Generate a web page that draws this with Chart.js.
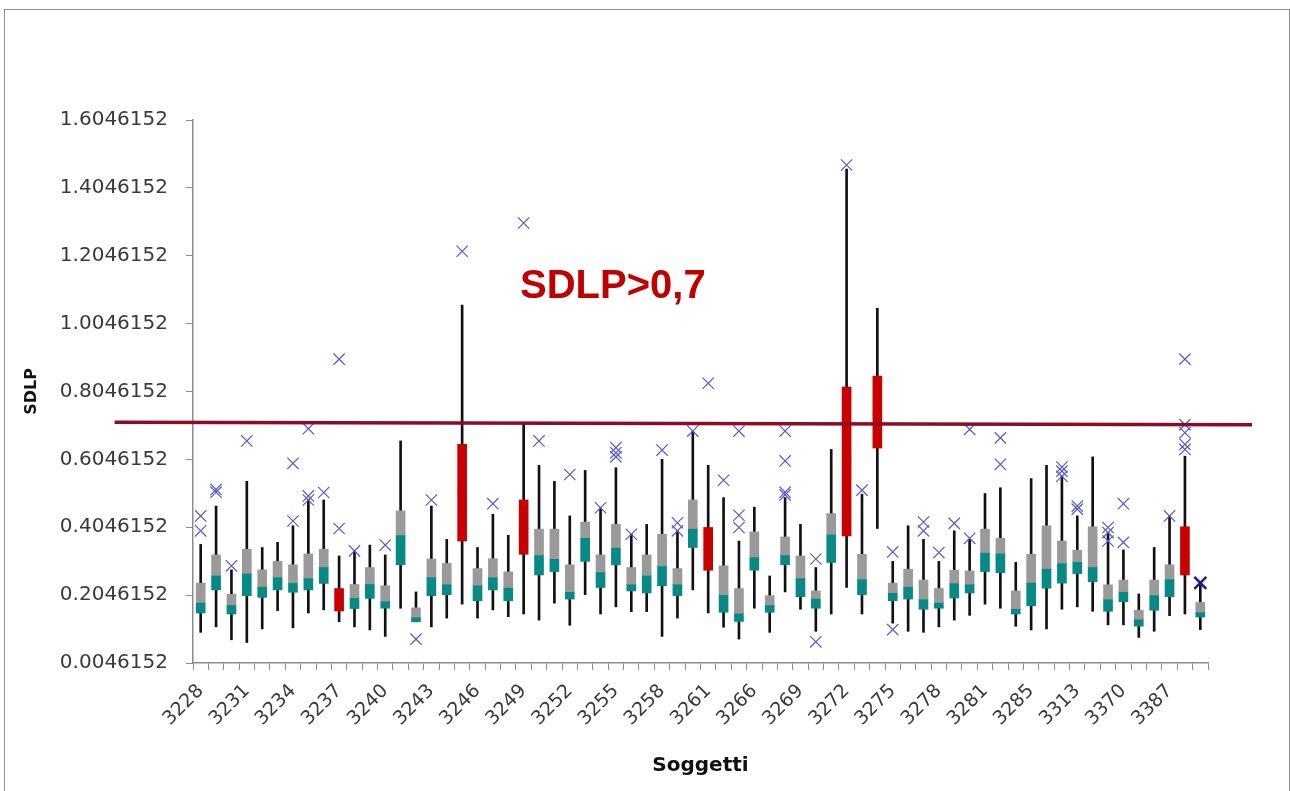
<!DOCTYPE html>
<html lang="it">
<head>
  <meta charset="UTF-8" />
  <title>SDLP per soggetto</title>
  <script src="https://cdn.jsdelivr.net/npm/chart.js"></script>
  <style>
    body {
      margin: 0;
      background: #ffffff;
      width: 1290px;
      height: 791px;
      overflow: hidden;
      position: relative;
    }
    #frame {
      position: absolute;
      left: 4px;
      top: 9px;
      width: 1286px;
      height: 800px;
      border: 1px solid #8f8f8f;
      box-sizing: border-box;
      pointer-events: none;
    }
    canvas {
      position: absolute;
      left: 0;
      top: 0;
    }
  </style>
</head>
<body>
  <canvas id="boxChart" width="1290" height="791"></canvas>
  <div id="frame"></div>

  <script>
  // subjects (x categories)
  const subjects = [
    '3228','3229','3230','3231','3232','3233','3234','3235','3236','3237','3238',
    '3239','3240','3241','3242','3243','3244','3245','3246','3247','3248','3249',
    '3250','3251','3252','3253','3254','3255','3256','3257','3258','3259','3260',
    '3261','3263','3264','3266','3267','3268','3269','3270','3271','3272','3273',
    '3274','3275','3276','3277','3278','3279','3280','3281','3282','3284','3285',
    '3287','3290','3313','3320','3345','3370','3375','3380','3387','3390','3395'
  ];

  // box plot values
  const whiskerLow = [
    0.095,0.111,0.073,0.065,0.105,0.159,0.108,0.152,0.161,0.126,0.111,
    0.102,0.083,0.166,0.126,0.111,0.137,0.178,0.137,0.161,0.141,0.149,
    0.131,0.181,0.116,0.206,0.149,0.170,0.156,0.156,0.083,0.137,0.220,
    0.152,0.110,0.075,0.166,0.095,0.214,0.163,0.098,0.149,0.227,0.149,
    0.401,0.122,0.098,0.095,0.111,0.131,0.145,0.178,0.166,0.113,0.102,
    0.105,0.163,0.170,0.157,0.117,0.117,0.080,0.098,0.144,0.149,0.103
  ];
  const q1 = [
    0.152,0.220,0.149,0.203,0.198,0.220,0.213,0.220,0.239,0.158,0.165,
    0.195,0.166,0.294,0.126,0.203,0.206,0.364,0.188,0.220,0.188,0.325,
    0.264,0.274,0.193,0.304,0.227,0.294,0.217,0.211,0.232,0.203,0.345,
    0.278,0.154,0.127,0.278,0.154,0.294,0.200,0.166,0.301,0.379,0.206,
    0.638,0.188,0.193,0.163,0.166,0.196,0.211,0.274,0.271,0.149,0.173,
    0.225,0.240,0.268,0.244,0.157,0.185,0.113,0.160,0.200,0.264,0.140
  ];
  const median = [
    0.183,0.263,0.176,0.269,0.230,0.258,0.241,0.255,0.288,0.193,0.197,
    0.238,0.187,0.382,0.140,0.258,0.237,0.500,0.234,0.258,0.227,0.400,
    0.323,0.312,0.215,0.374,0.273,0.345,0.237,0.263,0.291,0.237,0.401,
    0.340,0.206,0.151,0.317,0.176,0.323,0.255,0.195,0.384,0.600,0.252,
    0.740,0.212,0.230,0.193,0.183,0.240,0.237,0.330,0.328,0.165,0.242,
    0.283,0.299,0.303,0.288,0.193,0.215,0.134,0.205,0.252,0.330,0.155
  ];
  const q3 = [
    0.240,0.323,0.207,0.340,0.279,0.304,0.294,0.326,0.340,0.224,0.236,
    0.286,0.232,0.453,0.167,0.311,0.298,0.649,0.283,0.312,0.273,0.485,
    0.399,0.399,0.294,0.420,0.323,0.413,0.286,0.323,0.384,0.283,0.485,
    0.404,0.291,0.224,0.391,0.203,0.376,0.320,0.217,0.445,0.818,0.325,
    0.850,0.240,0.281,0.249,0.224,0.278,0.276,0.399,0.372,0.217,0.325,
    0.409,0.364,0.337,0.406,0.235,0.249,0.160,0.249,0.294,0.406,0.183
  ];
  const whiskerHigh = [
    0.354,0.467,0.279,0.540,0.345,0.360,0.409,0.487,0.485,0.320,0.335,
    0.352,0.323,0.659,0.214,0.467,0.369,1.059,0.345,0.443,0.381,0.708,
    0.587,0.540,0.438,0.572,0.462,0.580,0.384,0.413,0.605,0.394,0.688,
    0.587,0.492,0.364,0.464,0.261,0.492,0.413,0.286,0.634,1.460,0.502,
    1.050,0.304,0.409,0.369,0.304,0.394,0.369,0.504,0.521,0.301,0.548,
    0.587,0.556,0.438,0.612,0.389,0.338,0.208,0.345,0.438,0.614,0.234
  ];
  const outliers = [
    [0.394,0.438],[0.508,0.516],[0.291],[0.659],[],[],[0.423,0.593],
    [0.485,0.497,0.695],[0.507],[0.401,0.900],[0.335],[],[0.352],[],[0.075],
    [0.485],[],[1.218],[],[0.474],[],[1.301],[0.659],[],[0.560],[],[0.462],
    [0.612,0.624,0.639],[0.384],[],[0.632],[0.394,0.418],[0.688],[0.829],
    [0.543],[0.404,0.440,0.688],[],[],[0.500,0.508,0.600,0.688],[],
    [0.067,0.311],[],[1.472],[0.514],[],[0.103,0.332],[],[0.394,0.420],
    [0.330],[0.416],[0.372,0.693],[],[0.590,0.668],[],[],[],
    [0.555,0.570,0.582],[0.458,0.467],[],[0.364,0.389,0.404],[0.360,0.474],
    [],[],[0.438],[0.634,0.649,0.683,0.707,0.900],[0.241]
  ];
  // subjects whose box is marked in red
  const overLimit = ['3237','3245','3249','3261','3272','3274','3390'];
  const selectedPoint = '3395';

  // threshold line (x in category units) and annotation
  const limitX = [-5.6, 68.36];
  const limitY = [0.714, 0.707];
  const noteText = 'SDLP>0,7';
  const notePos = { x: 26.8, y: 1.112 };

  const yTicks = [0.0046152,0.2046152,0.4046152,0.6046152,0.8046152,
                  1.0046152,1.2046152,1.4046152,1.6046152];

  const GRAY = '#9a9a9a';
  const TEAL = '#078a85';
  const RED = '#c90000';
  const AXIS = '#8c8c8c';
  const TEXT = '#3a3a3a';

  const isRed = subjects.map(s => overLimit.includes(s));

  const lowerBox = subjects.map((s, i) => [q1[i], median[i]]);
  const upperBox = subjects.map((s, i) => [median[i], q3[i]]);
  const whiskers = subjects.map((s, i) => [whiskerLow[i], whiskerHigh[i]]);

  const outlierPoints = [];
  outliers.forEach((vals, i) => {
    vals.forEach(v => outlierPoints.push({ x: subjects[i], y: v }));
  });

  // threshold line + red note, placed with the chart's own scales
  const limitPlugin = {
    id: 'limit',
    afterDatasetsDraw(chart) {
      const ctx = chart.ctx;
      const xs = chart.scales.x;
      const ys = chart.scales.y;
      ctx.save();
      ctx.strokeStyle = '#8d0b25';
      ctx.lineWidth = 3.5;
      ctx.beginPath();
      ctx.moveTo(xs.getPixelForValue(limitX[0]), ys.getPixelForValue(limitY[0]));
      ctx.lineTo(xs.getPixelForValue(limitX[1]), ys.getPixelForValue(limitY[1]));
      ctx.stroke();

      ctx.fillStyle = '#c00000';
      ctx.font = 'bold 40px "Liberation Sans", Arial, sans-serif';
      ctx.textAlign = 'center';
      ctx.textBaseline = 'middle';
      ctx.fillText(noteText, xs.getPixelForValue(notePos.x), ys.getPixelForValue(notePos.y));
      ctx.restore();
    }
  };

  const ctx = document.getElementById('boxChart').getContext('2d');

  new Chart(ctx, {
    type: 'bar',
    data: {
      labels: subjects,
      datasets: [
        {
          type: 'scatter',
          label: 'outlier',
          data: outlierPoints,
          pointStyle: 'crossRot',
          pointRadius: c => c.raw && c.raw.x === selectedPoint ? 8.5 : 8,
          borderColor: c => c.raw && c.raw.x === selectedPoint ? '#1c1c8f' : '#5a5acb',
          borderWidth: c => c.raw && c.raw.x === selectedPoint ? 2.5 : 1.2,
          order: 1
        },
        {
          label: 'Q2-Q3',
          data: upperBox,
          backgroundColor: subjects.map((s, i) => isRed[i] ? RED : GRAY),
          barThickness: 9,
          grouped: false,
          order: 2
        },
        {
          label: 'Q1-Q2',
          data: lowerBox,
          backgroundColor: subjects.map((s, i) => isRed[i] ? RED : TEAL),
          barThickness: 9,
          grouped: false,
          order: 2
        },
        {
          label: 'baffi',
          data: whiskers,
          backgroundColor: '#111111',
          barThickness: 2,
          grouped: false,
          order: 3
        }
      ]
    },
    options: {
      responsive: false,
      animation: false,
      layout: {
        padding: { left: 4, top: 120, right: 82, bottom: 0 }
      },
      plugins: {
        legend: { display: false },
        tooltip: { enabled: false }
      },
      scales: {
        x: {
          type: 'category',
          offset: true,
          afterFit: scale => { scale.height = 128; },
          grid: {
            drawOnChartArea: false,
            drawTicks: true,
            tickLength: 7,
            color: AXIS,
            offset: true
          },
          border: { color: AXIS, width: 1.5 },
          ticks: {
            autoSkip: false,
            maxRotation: 45,
            minRotation: 45,
            padding: 10,
            color: TEXT,
            font: { family: '"DejaVu Sans", sans-serif', size: 19 },
            callback: (val, idx) => idx % 3 === 0 ? subjects[idx] : ''
          },
          title: {
            display: true,
            text: 'Soggetti',
            color: '#111111',
            font: { family: '"DejaVu Sans", sans-serif', size: 20, weight: 'bold' },
            padding: { top: 0, bottom: 13 }
          }
        },
        y: {
          min: 0.0046152,
          max: 1.6046152,
          afterFit: scale => { scale.width = 189; },
          afterBuildTicks: scale => { scale.ticks = yTicks.map(v => ({ value: v })); },
          grid: {
            drawOnChartArea: false,
            drawTicks: true,
            tickLength: 7,
            color: AXIS
          },
          border: { color: AXIS, width: 1.5 },
          ticks: {
            padding: 18,
            color: TEXT,
            font: { family: '"DejaVu Sans", sans-serif', size: 20 },
            callback: v => v.toFixed(7)
          },
          title: {
            display: true,
            text: 'SDLP',
            color: '#111111',
            font: { family: '"DejaVu Sans", sans-serif', size: 16, weight: 'bold' },
            padding: { top: 18, bottom: 0 }
          }
        }
      }
    },
    plugins: [limitPlugin]
  });
  </script>
</body>
</html>
